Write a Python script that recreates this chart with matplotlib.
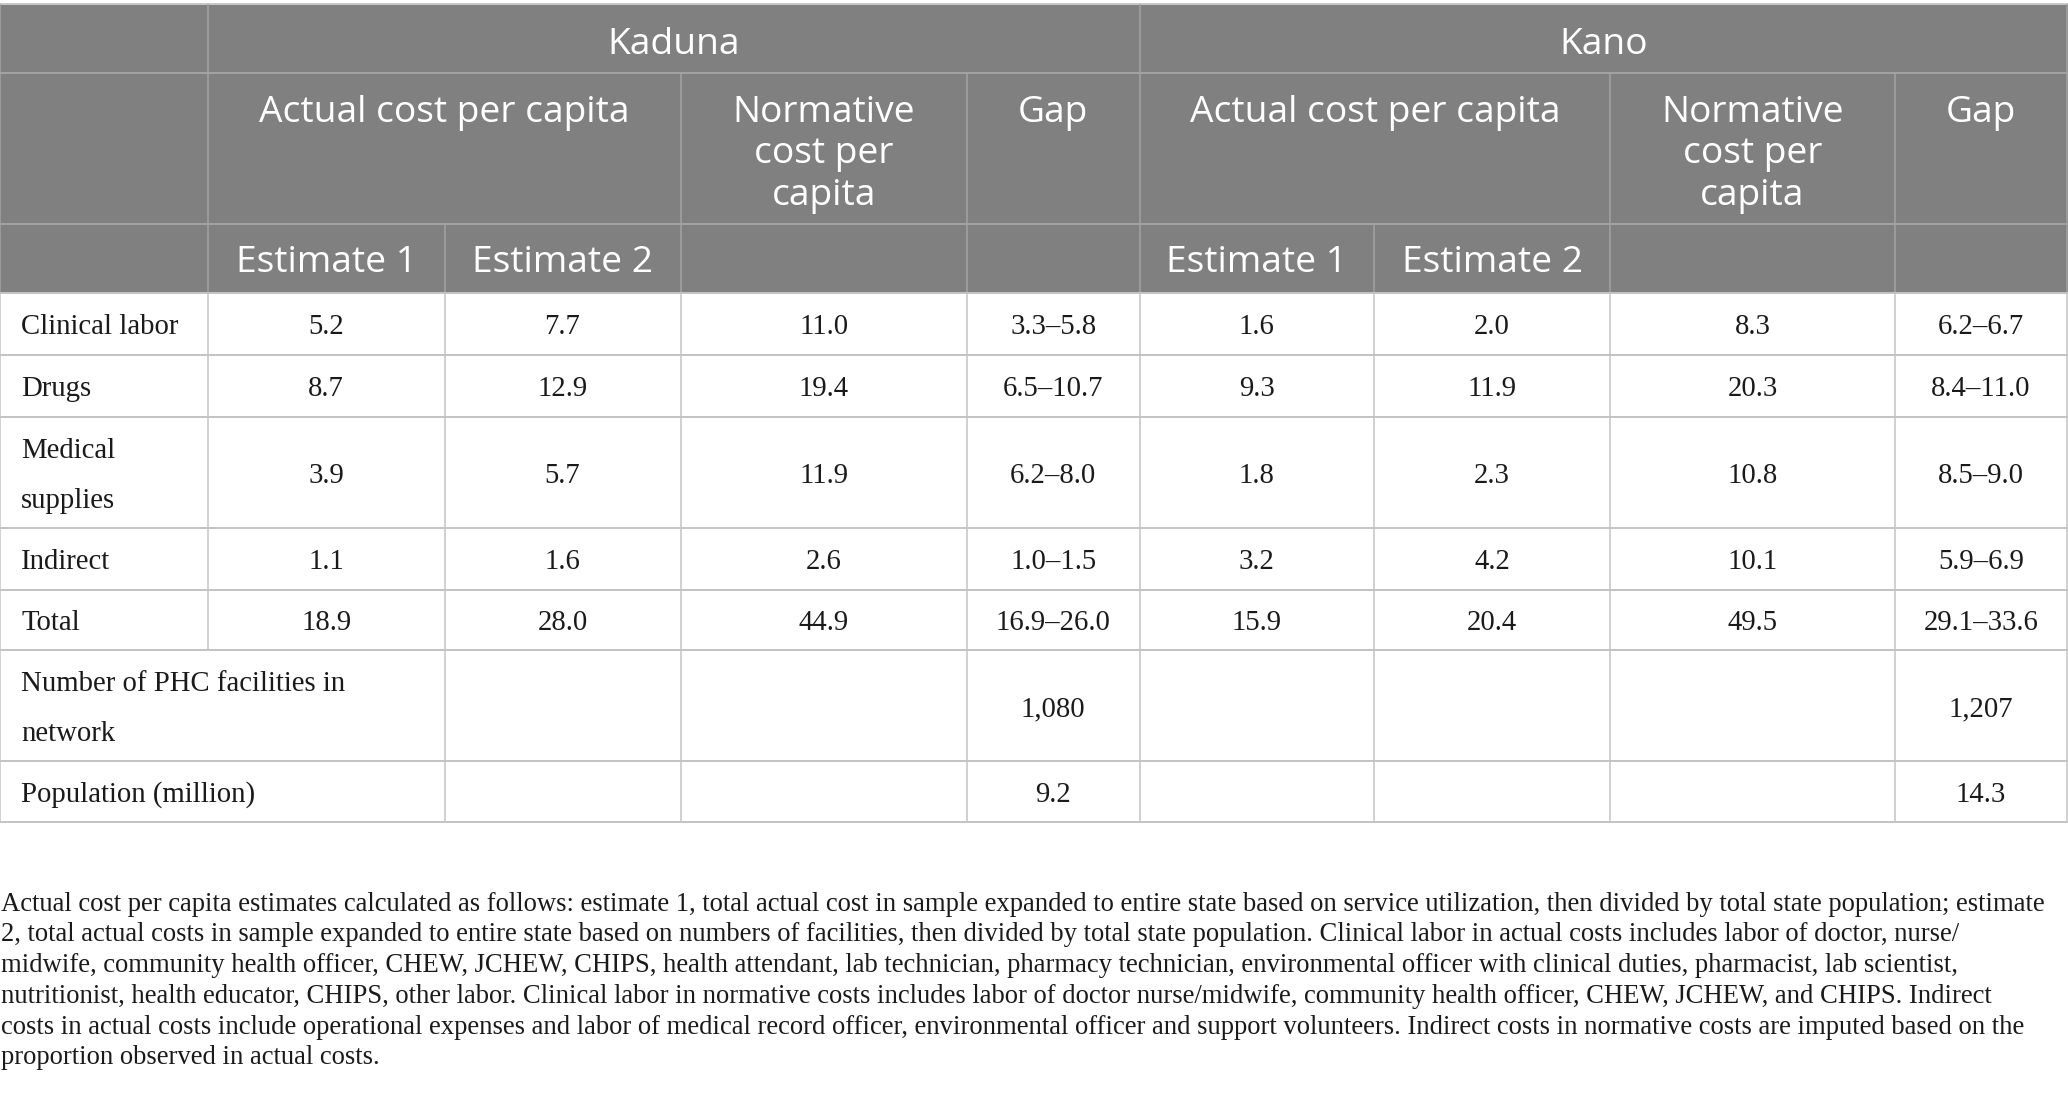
import matplotlib
matplotlib.use("Agg")
import matplotlib.pyplot as plt
from matplotlib.patches import Rectangle

# ---------------- data ----------------
states = ["Kaduna", "Kano"]
group_headers = ["Actual cost per capita", "Normative\ncost per\ncapita", "Gap"]
sub_headers = ["Estimate 1", "Estimate 2"]
row_labels = ["Clinical labor", "Drugs", "Medical\nsupplies", "Indirect", "Total"]

kaduna_est1 = [5.2, 8.7, 3.9, 1.1, 18.9]
kaduna_est2 = [7.7, 12.9, 5.7, 1.6, 28.0]
kaduna_norm = [11.0, 19.4, 11.9, 2.6, 44.9]
kaduna_gap_lo = [3.3, 6.5, 6.2, 1.0, 16.9]
kaduna_gap_hi = [5.8, 10.7, 8.0, 1.5, 26.0]

kano_est1 = [1.6, 9.3, 1.8, 3.2, 15.9]
kano_est2 = [2.0, 11.9, 2.3, 4.2, 20.4]
kano_norm = [8.3, 20.3, 10.8, 10.1, 49.5]
kano_gap_lo = [6.2, 8.4, 8.5, 5.9, 29.1]
kano_gap_hi = [6.7, 11.0, 9.0, 6.9, 33.6]

extra_labels = ["Number of PHC facilities in\nnetwork", "Population (million)"]
facilities = [1080, 1207]
population = [9.2, 14.3]

caption_lines = [
    "Actual cost per capita estimates calculated as follows: estimate 1, total actual cost in sample expanded to entire state based on service utilization, then divided by total state population; estimate",
    "2, total actual costs in sample expanded to entire state based on numbers of facilities, then divided by total state population. Clinical labor in actual costs includes labor of doctor, nurse/",
    "midwife, community health officer, CHEW, JCHEW, CHIPS, health attendant, lab technician, pharmacy technician, environmental officer with clinical duties, pharmacist, lab scientist,",
    "nutritionist, health educator, CHIPS, other labor. Clinical labor in normative costs includes labor of doctor nurse/midwife, community health officer, CHEW, JCHEW, and CHIPS. Indirect",
    "costs in actual costs include operational expenses and labor of medical record officer, environmental officer and support volunteers. Indirect costs in normative costs are imputed based on the",
    "proportion observed in actual costs.",
]

# ---------------- layout (pixels) ----------------
W, H = 2068, 1112
col_x = [0, 208, 444.5, 680.5, 966.7, 1139.5, 1374, 1610, 1895, 2067]
row_y = [4, 72.5, 224.2, 292.8, 354.8, 416.8, 527.6, 589.5, 650.2, 761, 821.7]

HEAD_BG = "#808080"
HEAD_LINE = "#a3a3a3"
BODY_LINE = "#c3c3c3"
TXT = "#1a1a1a"
HFONT = "Open Sans"
BFONT = "Liberation Serif"
HSIZE = 26.7
BSIZE = 20.7

fig = plt.figure(figsize=(W / 100, H / 100), dpi=100)
ax = fig.add_axes([0, 0, 1, 1])
ax.set_xlim(0, W)
ax.set_ylim(H, 0)
ax.axis("off")

ax.add_patch(Rectangle((0, row_y[0]), W, row_y[3] - row_y[0], facecolor=HEAD_BG, edgecolor="none"))


def seg(x0, y0, x1, y1, c, lw=1.1):
    ax.plot([x0, x1], [y0, y1], color=c, lw=lw, solid_capstyle="butt")


# header lines
seg(0, row_y[0], W, row_y[0], "#c8c8c8", 1.4)
seg(0, row_y[1], W, row_y[1], HEAD_LINE, 1.4)
seg(0, row_y[2], W, row_y[2], HEAD_LINE, 1.4)
for x in [0, col_x[1], col_x[5], col_x[9]]:
    seg(x, row_y[0], x, row_y[3], HEAD_LINE)
for x in [col_x[3], col_x[4], col_x[7], col_x[8]]:
    seg(x, row_y[1], x, row_y[3], HEAD_LINE)
for x in [col_x[2], col_x[6]]:
    seg(x, row_y[2], x, row_y[3], HEAD_LINE)

# body lines
for y in row_y[3:]:
    seg(0, y, W, y, BODY_LINE, 1.4)
seg(col_x[1], row_y[3], col_x[1], row_y[8], BODY_LINE)
for x in [0] + col_x[2:]:
    seg(x, row_y[3], x, row_y[10], BODY_LINE)


# header text
def ctr(i, j):
    return (col_x[i] + col_x[j]) / 2


hkw = dict(family=HFONT, fontsize=HSIZE, color="white", ha="center", va="baseline")
for s, state in enumerate(states):
    base = 4 * s
    ax.text(ctr(1 + base, 5 + base), 54, state, **hkw)
    spans = [(1 + base, 3 + base), (3 + base, 4 + base), (4 + base, 5 + base)]
    for (i, j), g in zip(spans, group_headers):
        for k, line in enumerate(g.split("\n")):
            ax.text(ctr(i, j), 122 + 41.5 * k, line, **hkw)
    for k, sh in enumerate(sub_headers):
        ax.text(ctr(1 + base + k, 2 + base + k), 272.5, sh, **hkw)

# body text
bkw = dict(family=BFONT, fontsize=BSIZE, color=TXT, va="baseline")
line_gap = 50


def row_base(r):
    return (row_y[3 + r] + row_y[4 + r]) / 2 + 10.5


def label(r, text):
    lines = text.split("\n")
    b0 = row_base(r) - line_gap * (len(lines) - 1) / 2
    for k, ln in enumerate(lines):
        ax.text(21, b0 + line_gap * k, ln, ha="left", **bkw)


cols_data = [
    [kaduna_est1, kaduna_est2, kaduna_norm, (kaduna_gap_lo, kaduna_gap_hi)],
    [kano_est1, kano_est2, kano_norm, (kano_gap_lo, kano_gap_hi)],
]
for r, lab in enumerate(row_labels):
    label(r, lab)
    for s in range(2):
        e1, e2, nm, (lo, hi) = cols_data[s]
        vals = [f"{e1[r]:.1f}", f"{e2[r]:.1f}", f"{nm[r]:.1f}", f"{lo[r]:.1f}\u2013{hi[r]:.1f}"]
        for k, v in enumerate(vals):
            ax.text(ctr(1 + 4 * s + k, 2 + 4 * s + k), row_base(r), v, ha="center", **bkw)

n = len(row_labels)
label(n, extra_labels[0])
label(n + 1, extra_labels[1])
for s in range(2):
    ax.text(ctr(4 + 4 * s, 5 + 4 * s), row_base(n), f"{facilities[s]:,}", ha="center", **bkw)
    ax.text(ctr(4 + 4 * s, 5 + 4 * s), row_base(n + 1), f"{population[s]:.1f}", ha="center", **bkw)

# caption: fit first line to target width
renderer = fig.canvas.get_renderer()
target = 2058
cs = 17.5
t = ax.text(0, 0, caption_lines[0], family=BFONT, fontsize=cs)
w = t.get_window_extent(renderer).width
t.remove()
cs = cs * target / w
for k, ln in enumerate(caption_lines):
    ax.text(1, 910.7 + 30.7 * k, ln, family=BFONT, fontsize=cs, color=TXT, ha="left", va="baseline")

fig.savefig("out.png", dpi=100, facecolor="white")
